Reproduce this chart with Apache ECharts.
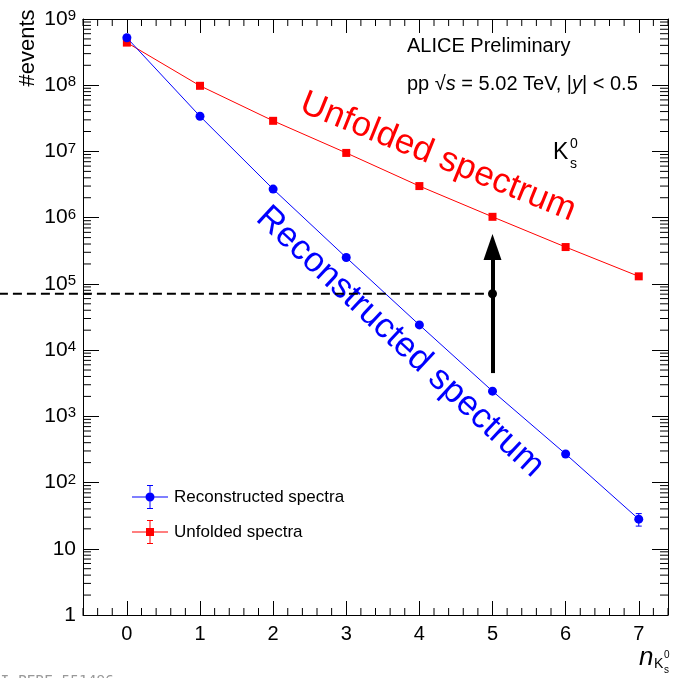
<!DOCTYPE html>
<html>
<head>
<meta charset="utf-8">
<script src="https://cdn.jsdelivr.net/npm/echarts@6/dist/echarts.min.js"></script>
<style>
  html, body { margin: 0; padding: 0; background: #fff; }
  #chart { width: 673px; height: 678px; }
</style>
</head>
<body>
<div id="chart"></div>
<script>
// multiplicity of K0s per event
var nK = [0, 1, 2, 3, 4, 5, 6, 7];
var recoSpectra = [5.2e8, 3.4e7, 2.7e6, 2.5e5, 2.4e4, 2.4e3, 270, 28];
var recoErr = [0, 0, 0, 0, 0, 0, 0, 6];
var unfoldedSpectra = [4.4e8, 9.8e7, 2.9e7, 9.5e6, 3.0e6, 1.03e6, 3.6e5, 1.3e5];

// tick labels
var xTicks = [0, 1, 2, 3, 4, 5, 6, 7];

// annotation: threshold line + arrow at n = 5
var thresholdLevel = 7.1e4;
var thresholdFrom = -1.75;
var thresholdAt = 5;
var arrowFrom = 4.5e3;
var arrowTo = 3.6e5;

// minor ticks (ROOT style)
var minorData = [];
for (var t = -0.6; t < 7.41; t += 0.2) {
  var v = Math.round(t * 10) / 10;
  if (Math.abs(v - Math.round(v)) > 0.01) minorData.push([v, 1, 0]);
}
for (var d = 0; d < 9; d++) {
  for (var m = 2; m <= 9; m++) minorData.push([0, m * Math.pow(10, d), 1]);
}

var legendReco = 'path://M0 11.5H36V12.5H0Z M17.5 0H18.5V24H17.5Z M15 0H21V1H15Z M15 23H21V24H15Z M22.5 12A4.5 4.5 0 1 1 13.5 12A4.5 4.5 0 1 1 22.5 12Z';
var legendUnf = 'path://M0 11.5H36V12.5H0Z M17.5 0H18.5V24H17.5Z M15 0H21V1H15Z M15 23H21V24H15Z M14 8H22V16H14Z';

var chart = echarts.init(document.getElementById('chart'));
var font = 'Liberation Sans, Arial, Helvetica, sans-serif';

function yLabel(v) {
  if (v === 1) return '1';
  if (v === 10) return '10';
  return '10{sup|' + Math.round(Math.log10(v)) + '}';
}

chart.setOption({
  animation: false,
  textStyle: { fontFamily: font },
  grid: { left: 83, right: 5, top: 19, bottom: 63 },
  legend: {
    left: 127,
    top: 480,
    orient: 'vertical',
    align: 'left',
    itemWidth: 36,
    itemHeight: 24,
    itemGap: 11,
    textStyle: { fontSize: 17, color: '#000', padding: [0, 0, 0, 1] },
    data: [
      { name: 'Reconstructed spectra', icon: legendReco },
      { name: 'Unfolded spectra', icon: legendUnf }
    ]
  },
  xAxis: [
    {
      type: 'value', min: -0.6, max: 7.4, position: 'bottom',
      axisLine: { onZero: false, lineStyle: { color: '#000', width: 1 } },
      axisTick: { inside: true, length: 14, customValues: xTicks, lineStyle: { color: '#000' } },
      axisLabel: { customValues: xTicks, fontSize: 20, color: '#000', margin: 9 },
      splitLine: { show: false }
    },
    {
      type: 'value', min: -0.6, max: 7.4, position: 'top',
      axisLine: { onZero: false, lineStyle: { color: '#000', width: 1 } },
      axisTick: { inside: true, length: 14, customValues: xTicks, lineStyle: { color: '#000' } },
      axisLabel: { show: false },
      splitLine: { show: false }
    }
  ],
  yAxis: [
    {
      type: 'log', logBase: 10, min: 1, max: 1e9, splitNumber: 9, position: 'left',
      axisLine: { show: true, onZero: false, lineStyle: { color: '#000', width: 1 } },
      axisTick: { show: true, inside: true, length: 16, lineStyle: { color: '#000' } },
      axisLabel: {
        fontSize: 21, color: '#000', margin: 7,
        formatter: yLabel,
        rich: { sup: { fontSize: 15, verticalAlign: 'top', lineHeight: 14 } }
      },
      splitLine: { show: false }
    },
    {
      type: 'log', logBase: 10, min: 1, max: 1e9, splitNumber: 9, position: 'right',
      axisLine: { show: true, onZero: false, lineStyle: { color: '#000', width: 1 } },
      axisTick: { show: true, inside: true, length: 16, lineStyle: { color: '#000' } },
      axisLabel: { show: false },
      splitLine: { show: false }
    }
  ],
  graphic: [
    { type: 'text', x: 28, y: 48, rotation: Math.PI / 2,
      style: { text: '#events', font: '22px ' + font, fill: '#000', textAlign: 'center', textVerticalAlign: 'middle' } },
    { type: 'text', x: 407, y: 36,
      style: { text: 'ALICE Preliminary', font: '20px ' + font, fill: '#000' } },
    { type: 'text', x: 407, y: 74,
      style: {
        text: 'pp √{i|s} = 5.02 TeV, |{i|y}| < 0.5',
        font: '20px ' + font, fill: '#000',
        rich: { i: { fontStyle: 'italic', fontSize: 20, fontFamily: font } }
      } },
    { type: 'text', x: 553, y: 141, style: { text: 'K', font: '23px ' + font, fill: '#000' } },
    { type: 'text', x: 570, y: 137, style: { text: '0', font: '14px ' + font, fill: '#000' } },
    { type: 'text', x: 570, y: 157, style: { text: 's', font: '14px ' + font, fill: '#000' } },
    { type: 'text', x: 438, y: 157, rotation: -22 * Math.PI / 180,
      style: { text: 'Unfolded spectrum', font: '35px ' + font, fill: '#ff0000', textAlign: 'center', textVerticalAlign: 'middle' } },
    { type: 'text', x: 400, y: 342, rotation: -43 * Math.PI / 180,
      style: { text: 'Reconstructed spectrum', font: '35px ' + font, fill: '#0000ff', textAlign: 'center', textVerticalAlign: 'middle' } },
    { type: 'text', x: 639, y: 645, style: { text: 'n', font: 'italic 26px ' + font, fill: '#000' } },
    { type: 'text', x: 654, y: 657, style: { text: 'K', font: '14px ' + font, fill: '#000' } },
    { type: 'text', x: 664, y: 650, style: { text: '0', font: '10px ' + font, fill: '#000' } },
    { type: 'text', x: 664, y: 665, style: { text: 's', font: '10px ' + font, fill: '#000' } },
    { type: 'text', x: -17, y: 674, style: { text: 'ALI-PERF-551496', font: '14.5px DejaVu Sans Mono, monospace', fill: '#999' } }
  ],
  series: [
    {
      name: 'minor ticks', type: 'custom', xAxisIndex: 0, yAxisIndex: 0, silent: true, z: 5,
      data: minorData,
      renderItem: function (params, api) {
        var cs = params.coordSys;
        var st = { stroke: '#000', lineWidth: 1 };
        if (api.value(2) === 0) {
          var px = api.coord([api.value(0), 1])[0];
          return { type: 'group', children: [
            { type: 'line', shape: { x1: px, y1: cs.y + cs.height, x2: px, y2: cs.y + cs.height - 7 }, style: st },
            { type: 'line', shape: { x1: px, y1: cs.y, x2: px, y2: cs.y + 7 }, style: st }
          ] };
        }
        var py = api.coord([0, api.value(1)])[1];
        return { type: 'group', children: [
          { type: 'line', shape: { x1: cs.x, y1: py, x2: cs.x + 8, y2: py }, style: st },
          { type: 'line', shape: { x1: cs.x + cs.width, y1: py, x2: cs.x + cs.width - 8, y2: py }, style: st }
        ] };
      }
    },
    {
      name: 'Unfolded spectra', type: 'line', xAxisIndex: 0, yAxisIndex: 0,
      data: nK.map(function (x, i) { return [x, unfoldedSpectra[i]]; }),
      symbol: 'rect', symbolSize: 8, showSymbol: true,
      itemStyle: { color: '#ff0000' },
      lineStyle: { color: '#ff0000', width: 1 },
      z: 3
    },
    {
      name: 'Reconstructed spectra', type: 'line', xAxisIndex: 0, yAxisIndex: 0,
      data: nK.map(function (x, i) { return [x, recoSpectra[i]]; }),
      symbol: 'circle', symbolSize: 9, showSymbol: true,
      itemStyle: { color: '#0000ff' },
      lineStyle: { color: '#0000ff', width: 1 },
      z: 4
    },
    {
      name: 'reco errors', type: 'custom', xAxisIndex: 0, yAxisIndex: 0, silent: true, z: 4,
      data: nK.map(function (x, i) { return [x, recoSpectra[i], recoErr[i]]; }),
      renderItem: function (params, api) {
        var e = api.value(2);
        if (!e) return null;
        var lo = api.coord([api.value(0), api.value(1) - e]);
        var hi = api.coord([api.value(0), api.value(1) + e]);
        var st = { stroke: '#0000ff', lineWidth: 1 };
        return { type: 'group', children: [
          { type: 'line', shape: { x1: lo[0], y1: lo[1], x2: hi[0], y2: hi[1] }, style: st },
          { type: 'line', shape: { x1: lo[0] - 3, y1: lo[1], x2: lo[0] + 3, y2: lo[1] }, style: st },
          { type: 'line', shape: { x1: hi[0] - 3, y1: hi[1], x2: hi[0] + 3, y2: hi[1] }, style: st }
        ] };
      }
    },
    {
      name: 'threshold line', type: 'custom', xAxisIndex: 0, yAxisIndex: 0, silent: true, z: 6, clip: false,
      data: [[thresholdFrom, thresholdAt, thresholdLevel]],
      renderItem: function (params, api) {
        var a = api.coord([api.value(0), api.value(2)]);
        var b = api.coord([api.value(1), api.value(2)]);
        return { type: 'line', shape: { x1: a[0], y1: a[1], x2: b[0], y2: b[1] },
          style: { stroke: '#000', lineWidth: 2, lineDash: [9, 5] } };
      }
    },
    {
      name: 'threshold', type: 'line', xAxisIndex: 0, yAxisIndex: 0, silent: true, z: 7,
      data: [[thresholdAt, thresholdLevel]],
      symbol: 'circle', symbolSize: 9, showSymbol: true,
      itemStyle: { color: '#000' },
      lineStyle: { width: 0 },
      markLine: {
        silent: true,
        animation: false,
        label: { show: false },
        lineStyle: { color: '#000', width: 4, type: 'solid' },
        data: [[
          { coord: [thresholdAt, arrowFrom], symbol: 'none' },
          { coord: [thresholdAt, arrowTo], symbol: 'triangle', symbolSize: [18, 26] }
        ]]
      }
    }
  ]
});
</script>
</body>
</html>
